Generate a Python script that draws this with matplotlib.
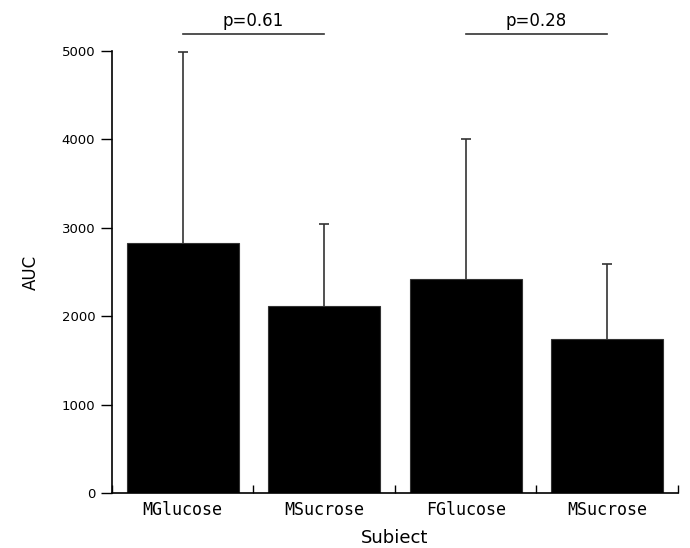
import matplotlib
matplotlib.use("Agg")
import matplotlib.pyplot as plt

groups = ["MGlucose", "MSucrose", "FGlucose", "MSucrose"]
auc = [2828, 2115, 2424, 1742]
err_up = [2162, 928, 1581, 848]
pairs = [(0, 1, "p=0.61"), (2, 3, "p=0.28")]

fig = plt.figure(figsize=(6.9, 5.48), dpi=100)
ax = fig.add_axes([0.1623, 0.1004, 0.8203, 0.8065])

x = list(range(len(groups)))
tops = [a + e for a, e in zip(auc, err_up)]
ax.bar(x, auc, width=0.79, color="black", edgecolor="#333333", linewidth=0.8, zorder=2)
# upper error bars only, cap at the top end
ax.vlines(x, auc, tops, color="#333333", lw=1.2, zorder=1)
ax.plot(x, tops, ls="none", marker="_", ms=7, mew=1.2, color="#333333", clip_on=False)

ax.set_xlim(-0.5, 3.5)
ax.set_ylim(0, 5000)
ax.set_yticks([0, 1000, 2000, 3000, 4000, 5000])
ax.set_xticks(x)
ax.set_xticklabels(groups, family="DejaVu Sans Mono", fontsize=12)
ax.set_xticks([-0.5, 0.5, 1.5, 2.5, 3.5], minor=True)
ax.tick_params(axis="x", which="major", length=0, pad=6)
ax.tick_params(axis="x", which="minor", length=6, direction="in", width=1)
ax.tick_params(axis="y", length=8, width=1, labelsize=9.5, pad=4)

for s in ["top", "right"]:
    ax.spines[s].set_visible(False)
ax.spines["left"].set_linewidth(1.2)
ax.spines["bottom"].set_linewidth(1.2)

for a, b, txt in pairs:
    ax.plot([a, b], [5192, 5192], color="#333333", lw=1.2, clip_on=False)
    ax.text((a + b) / 2, 5240, txt, ha="center", va="bottom", fontsize=12)

ax.set_ylabel("AUC", fontsize=12, labelpad=16)
ax.set_xlabel("Subiect", fontsize=13, labelpad=7)

fig.savefig("out.png", dpi=100)
